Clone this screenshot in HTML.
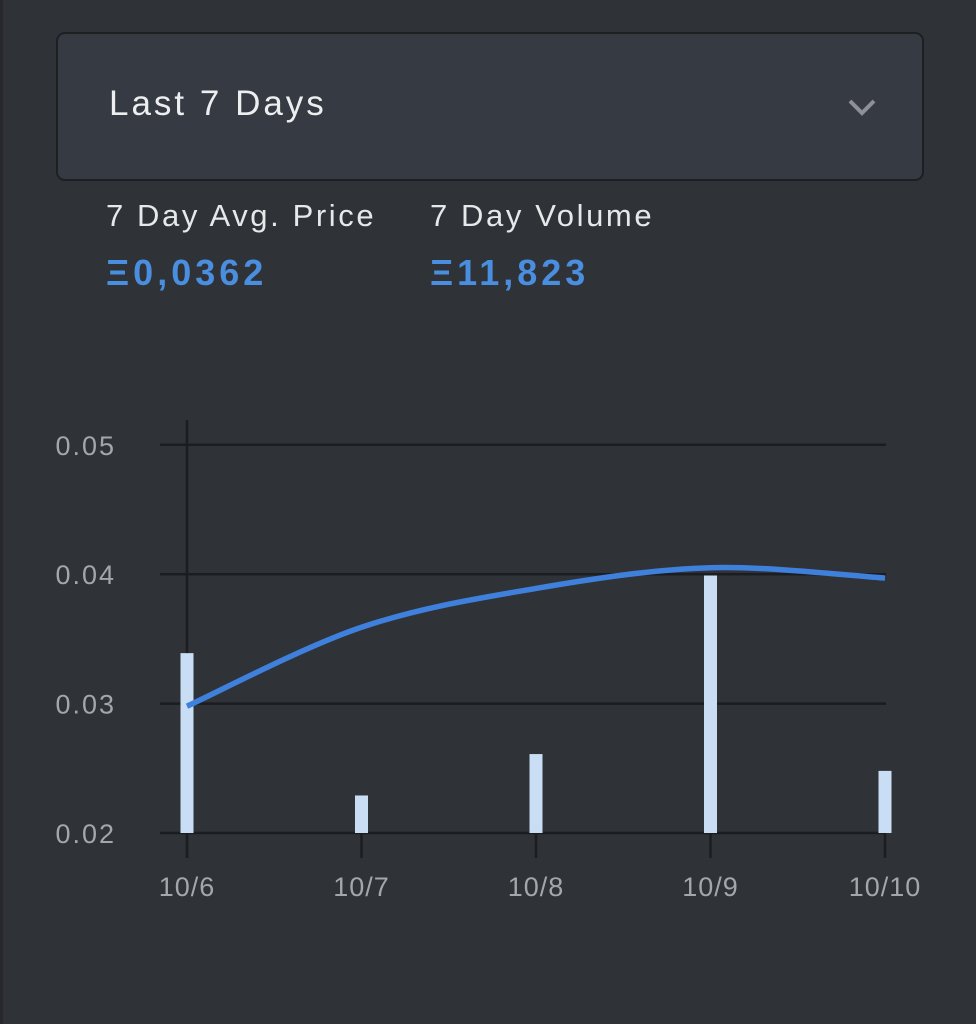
<!DOCTYPE html>
<html><head><meta charset="utf-8"><style>
body{margin:0;width:976px;height:1024px;background:#2f3237;font-family:"Liberation Sans",sans-serif;overflow:hidden;position:relative}
.dd{position:absolute;left:56px;top:32px;width:864px;height:145px;background:#363a42;border:2px solid #1d1f23;border-radius:9px;box-sizing:content-box}
.dd span{position:absolute;left:51px;top:50px;font-size:35px;letter-spacing:3px;color:#eceef0}
.lab{position:absolute;font-size:31px;letter-spacing:2.6px;color:#e6e8ea;top:198px}
.val{position:absolute;font-size:36px;letter-spacing:4px;color:#4a8ee0;font-weight:bold;top:252px}
</style></head><body>
<div style="position:absolute;left:0;top:0;width:3px;height:1024px;background:#26282c"></div>
<div class="dd"><span>Last 7 Days</span>
<svg style="position:absolute;left:788px;top:62px" width="34" height="22"><polyline points="4,5 16,17 28,5" fill="none" stroke="#8d9096" stroke-width="4"/></svg></div>
<div class="lab" style="left:106px">7 Day Avg. Price</div>
<div class="lab" style="left:430px">7 Day Volume</div>
<div class="val" style="left:106px">Ξ0,0362</div>
<div class="val" style="left:430px">Ξ11,823</div>
<svg id="chart" style="position:absolute;left:0;top:0" width="976" height="1024"></svg>
<script>
const categories=["10/6","10/7","10/8","10/9","10/10"];
const priceValues=[0.0298,0.0359,0.0389,0.0405,0.0397];
const volumeValues=[0.0339,0.0229,0.0261,0.0399,0.0248];
const yTicks=[0.02,0.03,0.04,0.05];
const svg=document.getElementById('chart');
const NS='http://www.w3.org/2000/svg';
const x=i=>187+i*174.5;
const y=v=>833-(v-0.02)*12940;
function mk(t,a){const e=document.createElementNS(NS,t);for(const k in a)e.setAttribute(k,a[k]);svg.appendChild(e);return e;}
yTicks.forEach(v=>{
 const g=mk('line',{x1:160,x2:886,y1:y(v),y2:y(v),stroke:'#1b1d21','stroke-width':2.5});
 
 
 const t=mk('text',{x:116,y:y(v)+10,'text-anchor':'end','font-size':27,'letter-spacing':2,fill:'#a3a6ab','font-family':'Liberation Sans, sans-serif'});
 t.textContent=v.toFixed(2);
 
 
});
const ax=mk('line',{x1:187,x2:187,y1:420,y2:858,stroke:'#1b1d21','stroke-width':2.5});


categories.forEach((c,i)=>{
 const tk=mk('line',{x1:x(i),x2:x(i),y1:833,y2:858,stroke:'#1b1d21','stroke-width':2.5});
 
 
 const t=mk('text',{x:x(i),y:896,'text-anchor':'middle','font-size':27,'letter-spacing':1,fill:'#a3a6ab','font-family':'Liberation Sans, sans-serif'});
 t.textContent=c;
 
 
});
volumeValues.forEach((v,i)=>{
 const b=mk('rect',{x:x(i)-6.5,y:y(v),width:13,height:833-y(v),fill:'#c9def5'});
 
 
});
const pts=priceValues.map((v,i)=>[x(i),y(v)]);
let d='M'+pts[0][0]+','+pts[0][1];
for(let i=0;i<pts.length-1;i++){
 const p0=pts[Math.max(0,i-1)],p1=pts[i],p2=pts[i+1],p3=pts[Math.min(pts.length-1,i+2)];
 const c1=[p1[0]+(p2[0]-p0[0])/6,p1[1]+(p2[1]-p0[1])/6];
 const c2=[p2[0]-(p3[0]-p1[0])/6,p2[1]-(p3[1]-p1[1])/6];
 d+=` C${c1[0]},${c1[1]} ${c2[0]},${c2[1]} ${p2[0]},${p2[1]}`;
}
const ln=mk('path',{d:d,fill:'none',stroke:'#3f80dc','stroke-width':5.5});


</script>
</body></html>
